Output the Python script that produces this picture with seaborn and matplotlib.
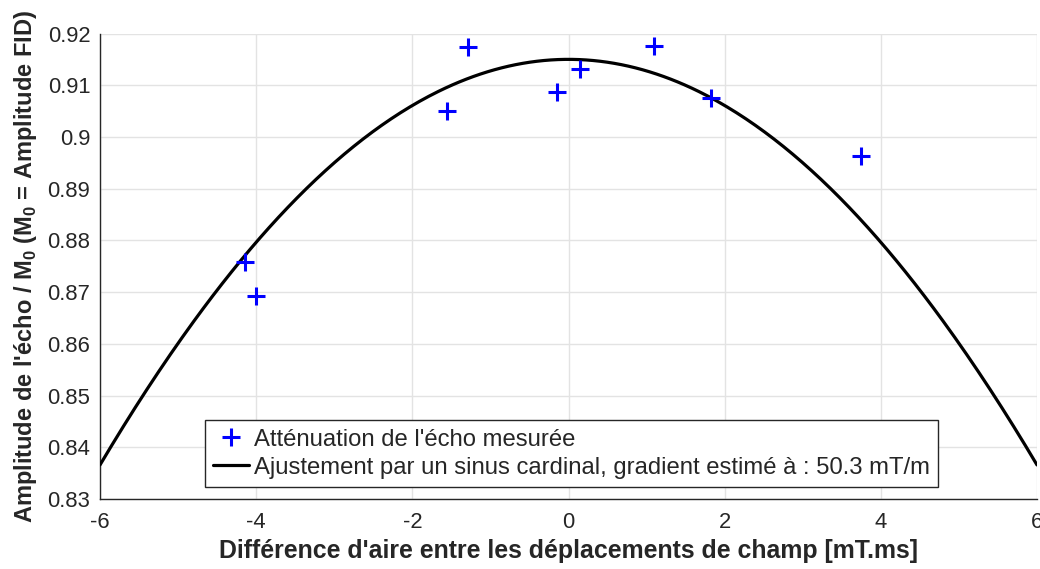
import numpy as np
import pandas as pd
import matplotlib
matplotlib.use("Agg")
import matplotlib.pyplot as plt
import seaborn as sns

# measured echo attenuation
x_mes = [-4.14, -4.00, -1.56, -1.29, -0.15, 0.15, 1.10, 1.82, 3.74]
y_mes = [0.8758, 0.8692, 0.9051, 0.9173, 0.9087, 0.9131, 0.9176, 0.9075, 0.8964]

# sinc fit parameters (amplitude, k)
A_fit = 0.915
k_fit = 0.1211
x_fit = np.linspace(-6, 6, 400)
y_fit = A_fit * np.sinc(k_fit * x_fit / np.pi)

x_ticks = [-6, -4, -2, 0, 2, 4, 6]
y_ticks = [0.83, 0.84, 0.85, 0.86, 0.87, 0.88, 0.89, 0.90, 0.91, 0.92]
y_tick_labels = ["0.83", "0.84", "0.85", "0.86", "0.87", "0.88", "0.89", "0.9", "0.91", "0.92"]

sns.set_style("white")
plt.rcParams["font.family"] = ["Liberation Sans", "DejaVu Sans"]
plt.rcParams["mathtext.fontset"] = "custom"
plt.rcParams["mathtext.bf"] = "Liberation Sans:bold"
plt.rcParams["mathtext.rm"] = "Liberation Sans"
plt.rcParams["axes.unicode_minus"] = False

df_mes = pd.DataFrame({"x": x_mes, "y": y_mes})
df_fit = pd.DataFrame({"x": x_fit, "y": y_fit})

fig = plt.figure(figsize=(10.4, 5.69), dpi=100)
ax = fig.add_axes([100 / 1040, 70 / 569, 937 / 1040, 465.5 / 569])

sns.lineplot(data=df_fit, x="x", y="y", ax=ax, color="black", linewidth=2.3,
             label="Ajustement par un sinus cardinal, gradient estimé à : 50.3 mT/m", zorder=3)
ax.plot(df_mes["x"], df_mes["y"], linestyle="none", marker="+", color="blue",
        markersize=13, markeredgewidth=2.2, zorder=4, label="Atténuation de l'écho mesurée")

ax.set_xlim(-6, 6)
ax.set_ylim(0.83, 0.92)
ax.set_xticks(x_ticks)
ax.set_yticks(y_ticks)
ax.set_yticklabels(y_tick_labels)
ax.grid(True, color="#e3e3e3", linewidth=1)
ax.set_axisbelow(True)

for s in ["top", "right"]:
    ax.spines[s].set_visible(False)
for s in ["left", "bottom"]:
    ax.spines[s].set_color("#262626")
    ax.spines[s].set_linewidth(1.0)
ax.tick_params(axis="both", direction="in", length=5, width=1, color="#262626",
               labelcolor="#262626", labelsize=15.8)
ax.tick_params(axis="x", pad=9)
ax.tick_params(axis="y", pad=7)

ax.set_xlabel("Différence d'aire entre les déplacements de champ [mT.ms]",
              fontsize=17.9, fontweight="bold", color="#262626", labelpad=5)
ax.set_ylabel(r"Amplitude de l'écho / M$_\mathbf{0}$ (M$_\mathbf{0}$ = Amplitude FID)",
              fontsize=17, fontweight="bold", color="#262626", labelpad=6)

handles, labels = ax.get_legend_handles_labels()
leg = ax.legend(handles[::-1], labels[::-1], loc="lower left", bbox_to_anchor=(105 / 937, 12 / 465.5),
                fontsize=17.2, frameon=True, fancybox=False, framealpha=1, borderpad=0.35,
                handlelength=1.5, handletextpad=0.2, labelspacing=0.25, borderaxespad=0)
leg.get_frame().set_edgecolor("#262626")
leg.get_frame().set_linewidth(1.0)

fig.savefig("out.png", dpi=100)
